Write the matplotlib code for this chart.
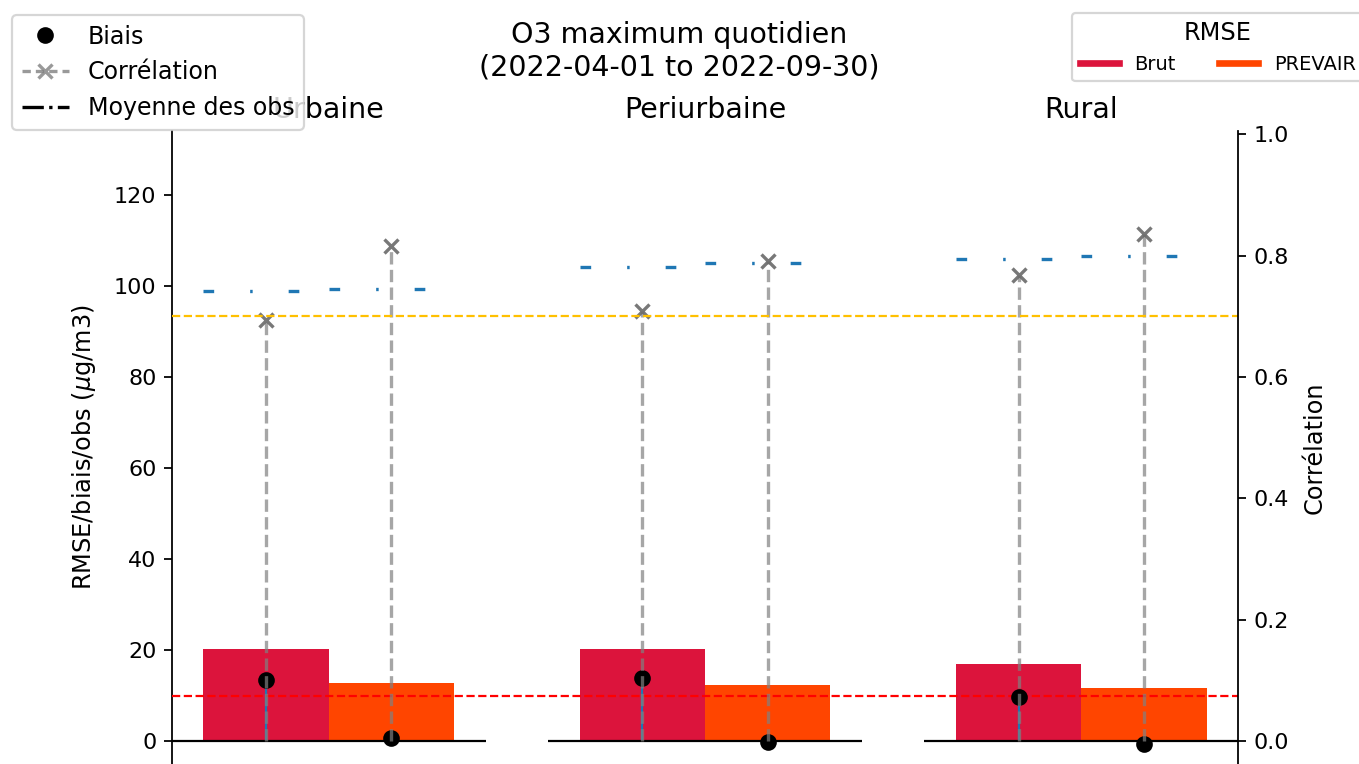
import numpy as np
import matplotlib.pyplot as plt
from matplotlib.lines import Line2D

# Typologies de stations et modèles comparés
zones = ['Urbaine', 'Periurbaine', 'Rural']
modeles = ['Brut', 'PREVAIR']
couleurs = ['crimson', 'orangered']

# Scores par typologie (µg/m3 sauf corrélation)
rmse_brut = [20.3, 20.2, 17.0]
rmse_prevair = [12.8, 12.3, 11.6]
biais_brut = [13.4, 14.0, 9.8]
biais_prevair = [0.8, -0.2, -0.7]
corr_brut = [0.694, 0.708, 0.768]
corr_prevair = [0.816, 0.791, 0.836]
obs_brut = [98.9, 104.3, 106.0]
obs_prevair = [99.3, 105.0, 106.6]

seuil_biais = 10
seuil_corr = 0.7

dpi = 160
fig = plt.figure(figsize=(1359 / dpi, 764 / dpi), dpi=dpi)
ax = fig.add_axes([172 / 1359, 0.0, 1066 / 1359, 1 - 131 / 764])
ax2 = ax.twinx()

pos = np.arange(len(zones)) * 3
series = [
    (rmse_brut, biais_brut, corr_brut, obs_brut),
    (rmse_prevair, biais_prevair, corr_prevair, obs_prevair),
]
for k, (rmse, biais, corr, obs) in enumerate(series):
    x = pos + k
    ax.bar(x, rmse, width=1, color=couleurs[k], zorder=1)
    ax.vlines(x, 0, biais, colors='C0', lw=1, zorder=2)
    ax.hlines(obs, x - 0.5, x + 0.5, colors='C0', lw=1.5,
              linestyles=(0, (3.2, 10.8, 0.75, 10.8)))
    ax.plot(x, biais, 'o', color='black', ms=6.5, zorder=4)
    ax2.vlines(x, 0, corr, colors='gray', linestyles='--', lw=1.5, alpha=0.7)
    ax2.plot(x, corr, 'x', color='dimgray', ms=6.5, mew=1.5, alpha=0.9)

# axe des abscisses par groupe
ax.hlines(np.zeros(len(pos)), pos - 0.75, pos + 1.75, colors='black', lw=1, zorder=3)
ax.axhline(seuil_biais, color='red', ls='--', lw=1, zorder=3)
ax2.axhline(seuil_corr, color='#FFC000', ls='--', lw=1)

for g, z in zip(pos, zones):
    ax.annotate(z, xy=(g + 0.5, 1), xycoords=('data', 'axes fraction'),
                xytext=(0, 6), textcoords='offset points',
                ha='center', va='baseline', fontsize=12.8)

ymin, ymax = -5, 134.1
ax.set_xlim(-0.75, 7.75)
ax.set_ylim(ymin, ymax)
ax2.set_ylim(ymin / 133.4, ymax / 133.4)
ax.set_yticks(np.arange(0, 121, 20))
ax2.set_yticks(np.arange(0, 1.01, 0.2))
ax.set_xticks([])

for s in ['top', 'right', 'bottom']:
    ax.spines[s].set_visible(False)
for s in ['top', 'left', 'bottom']:
    ax2.spines[s].set_visible(False)

ax.set_ylabel('RMSE/biais/obs ($\\mu$g/m3)', labelpad=7, fontsize=10.8)
ax2.set_ylabel('Corrélation', labelpad=6, fontsize=10.8)

fig.suptitle('O3 maximum quotidien\n(2022-04-01 to 2022-09-30)',
             fontsize=12.8, y=0.972)

poignees = [
    Line2D([], [], marker='o', color='black', ls='none', ms=6.5),
    Line2D([], [], marker='x', color='gray', ls='--', ms=6.5, mew=1.5,
           alpha=0.8, dashes=(2.5, 1.5)),
    Line2D([], [], color='black', ls='-.', lw=1.5),
]
fig.legend(poignees, ['Biais', 'Corrélation', 'Moyenne des obs'],
           loc='upper left', bbox_to_anchor=(12 / 1359, 1 - 15 / 764),
           borderaxespad=0, fontsize=10.7, labelspacing=0.5)

poignees_rmse = [Line2D([], [], color=c, lw=3) for c in couleurs]
fig.legend(poignees_rmse, modeles, title='RMSE', ncol=2, fontsize=8.8,
           title_fontsize=10.8, columnspacing=2.2,
           loc='upper left', bbox_to_anchor=(1072 / 1359, 1 - 13 / 764),
           borderaxespad=0)

fig.savefig('out.png', dpi=dpi)
